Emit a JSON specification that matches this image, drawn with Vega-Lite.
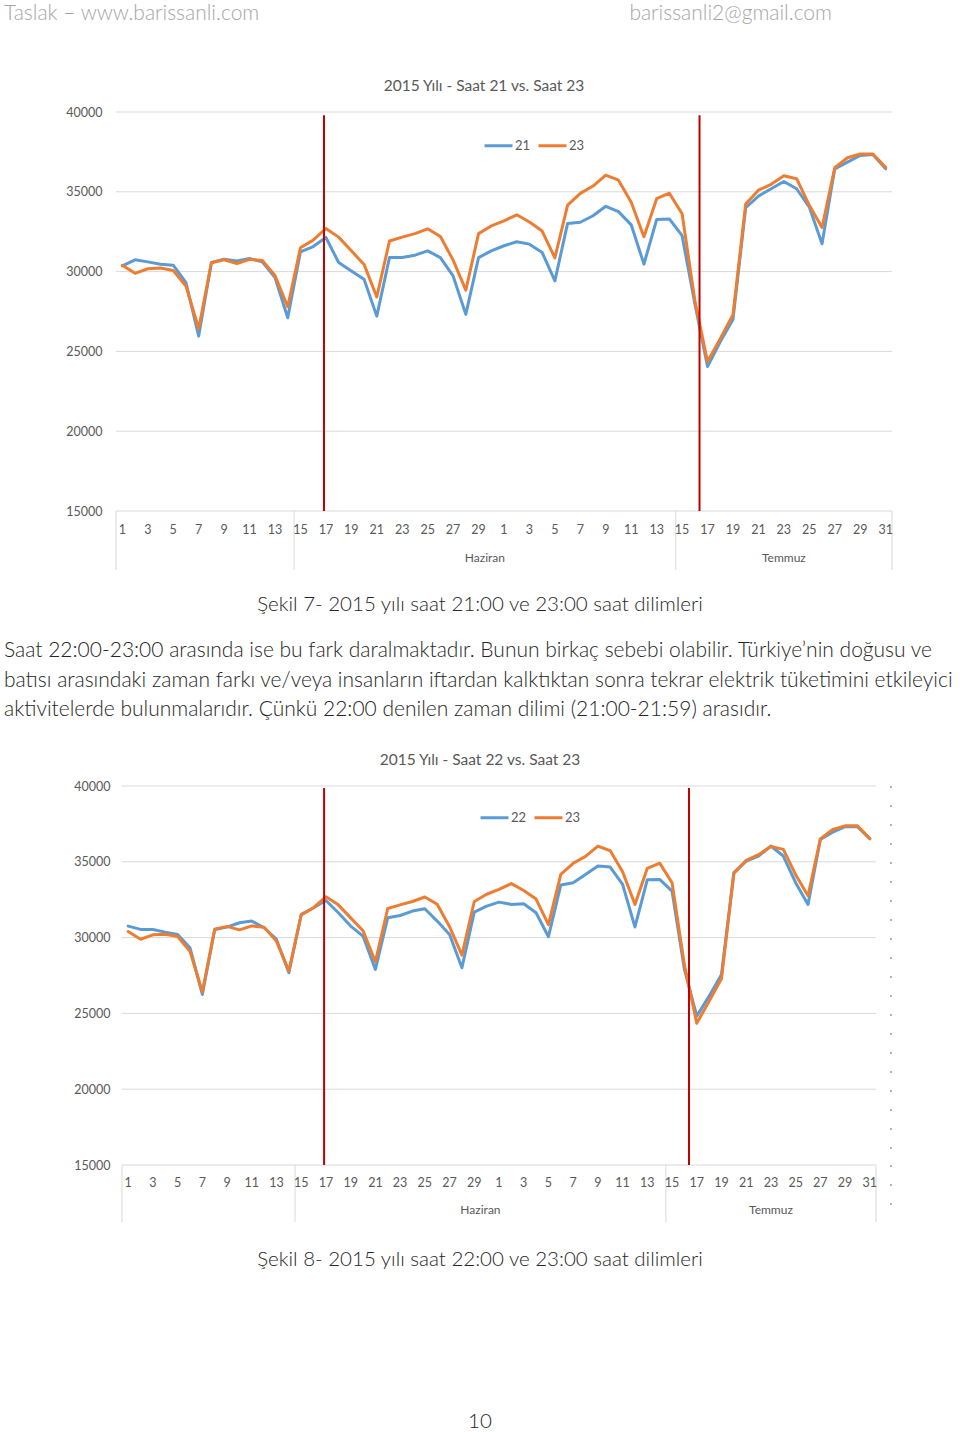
{
  "$schema": "https://vega.github.io/schema/vega-lite/v6.json",
  "background": "white",
  "padding": 0,
  "bounds": "flush",
  "spacing": 0,
  "config": {
    "view": {"stroke": null},
    "font": "Lato",
    "title": {"font": "Lato", "fontWeight": "normal", "frame": "group", "limit": 0},
    "axis": {"labelFont": "Lato", "labelColor": "#595959", "title": null},
    "legend": {"labelFont": "Lato"}
  },
  "resolve": {"scale": {"color": "independent"}, "legend": {"color": "independent"}},
  "datasets": {
    "gunluk": [
      {"i": 0, "gun": "1", "grup": "", "21": 30360, "22": 30760, "23": 30400},
      {"i": 1, "gun": "2", "grup": "", "21": 30740, "22": 30540, "23": 29890},
      {"i": 2, "gun": "3", "grup": "", "21": 30610, "22": 30540, "23": 30180},
      {"i": 3, "gun": "4", "grup": "", "21": 30460, "22": 30360, "23": 30220},
      {"i": 4, "gun": "5", "grup": "", "21": 30400, "22": 30210, "23": 30070},
      {"i": 5, "gun": "6", "grup": "", "21": 29310, "22": 29330, "23": 29100},
      {"i": 6, "gun": "7", "grup": "", "21": 25960, "22": 26250, "23": 26420},
      {"i": 7, "gun": "8", "grup": "", "21": 30570, "22": 30540, "23": 30550},
      {"i": 8, "gun": "9", "grup": "", "21": 30780, "22": 30690, "23": 30740},
      {"i": 9, "gun": "10", "grup": "", "21": 30670, "22": 30980, "23": 30510},
      {"i": 10, "gun": "11", "grup": "", "21": 30820, "22": 31090, "23": 30770},
      {"i": 11, "gun": "12", "grup": "", "21": 30610, "22": 30650, "23": 30690},
      {"i": 12, "gun": "13", "grup": "", "21": 29620, "22": 29880, "23": 29750},
      {"i": 13, "gun": "14", "grup": "", "21": 27110, "22": 27680, "23": 27800},
      {"i": 14, "gun": "15", "grup": "Haziran", "21": 31240, "22": 31530, "23": 31490},
      {"i": 15, "gun": "16", "grup": "Haziran", "21": 31570, "22": 31970, "23": 31970},
      {"i": 16, "gun": "17", "grup": "Haziran", "21": 32140, "22": 32450, "23": 32700},
      {"i": 17, "gun": "18", "grup": "Haziran", "21": 30570, "22": 31640, "23": 32160},
      {"i": 18, "gun": "19", "grup": "Haziran", "21": 30040, "22": 30760, "23": 31300},
      {"i": 19, "gun": "20", "grup": "Haziran", "21": 29520, "22": 30100, "23": 30450},
      {"i": 20, "gun": "21", "grup": "Haziran", "21": 27210, "22": 27900, "23": 28410},
      {"i": 21, "gun": "22", "grup": "Haziran", "21": 30880, "22": 31310, "23": 31920},
      {"i": 22, "gun": "23", "grup": "Haziran", "21": 30880, "22": 31460, "23": 32160},
      {"i": 23, "gun": "24", "grup": "Haziran", "21": 31030, "22": 31750, "23": 32380},
      {"i": 24, "gun": "25", "grup": "Haziran", "21": 31300, "22": 31900, "23": 32680},
      {"i": 25, "gun": "26", "grup": "Haziran", "21": 30880, "22": 31090, "23": 32200},
      {"i": 26, "gun": "27", "grup": "Haziran", "21": 29730, "22": 30210, "23": 30720},
      {"i": 27, "gun": "28", "grup": "Haziran", "21": 27320, "22": 28010, "23": 28840},
      {"i": 28, "gun": "29", "grup": "Haziran", "21": 30880, "22": 31680, "23": 32380},
      {"i": 29, "gun": "30", "grup": "Haziran", "21": 31300, "22": 32080, "23": 32860},
      {"i": 30, "gun": "1", "grup": "Haziran", "21": 31620, "22": 32340, "23": 33180},
      {"i": 31, "gun": "2", "grup": "Haziran", "21": 31870, "22": 32190, "23": 33560},
      {"i": 32, "gun": "3", "grup": "Haziran", "21": 31720, "22": 32230, "23": 33110},
      {"i": 33, "gun": "4", "grup": "Haziran", "21": 31200, "22": 31640, "23": 32540},
      {"i": 34, "gun": "5", "grup": "Haziran", "21": 29420, "22": 30060, "23": 30860},
      {"i": 35, "gun": "6", "grup": "Haziran", "21": 33020, "22": 33470, "23": 34170},
      {"i": 36, "gun": "7", "grup": "Haziran", "21": 33090, "22": 33620, "23": 34900},
      {"i": 37, "gun": "8", "grup": "Haziran", "21": 33500, "22": 34170, "23": 35360},
      {"i": 38, "gun": "9", "grup": "Haziran", "21": 34090, "22": 34720, "23": 36040},
      {"i": 39, "gun": "10", "grup": "Haziran", "21": 33760, "22": 34650, "23": 35730},
      {"i": 40, "gun": "11", "grup": "Haziran", "21": 32930, "22": 33510, "23": 34350},
      {"i": 41, "gun": "12", "grup": "Haziran", "21": 30470, "22": 30700, "23": 32180},
      {"i": 42, "gun": "13", "grup": "Haziran", "21": 33260, "22": 33820, "23": 34570},
      {"i": 43, "gun": "14", "grup": "Haziran", "21": 33300, "22": 33840, "23": 34910},
      {"i": 44, "gun": "15", "grup": "Temmuz", "21": 32250, "22": 33070, "23": 33620},
      {"i": 45, "gun": "16", "grup": "Temmuz", "21": 28000, "22": 27900, "23": 28200},
      {"i": 46, "gun": "17", "grup": "Temmuz", "21": 24050, "22": 24820, "23": 24350},
      {"i": 47, "gun": "18", "grup": "Temmuz", "21": 25600, "22": 26140, "23": 25800},
      {"i": 48, "gun": "19", "grup": "Temmuz", "21": 27000, "22": 27570, "23": 27300},
      {"i": 49, "gun": "20", "grup": "Temmuz", "21": 34000, "22": 34280, "23": 34230},
      {"i": 50, "gun": "21", "grup": "Temmuz", "21": 34730, "22": 35050, "23": 35100},
      {"i": 51, "gun": "22", "grup": "Temmuz", "21": 35190, "22": 35380, "23": 35470},
      {"i": 52, "gun": "23", "grup": "Temmuz", "21": 35650, "22": 36040, "23": 36010},
      {"i": 53, "gun": "24", "grup": "Temmuz", "21": 35190, "22": 35380, "23": 35820},
      {"i": 54, "gun": "25", "grup": "Temmuz", "21": 34040, "22": 33620, "23": 34150},
      {"i": 55, "gun": "26", "grup": "Temmuz", "21": 31740, "22": 32190, "23": 32760},
      {"i": 56, "gun": "27", "grup": "Temmuz", "21": 36440, "22": 36480, "23": 36510},
      {"i": 57, "gun": "28", "grup": "Temmuz", "21": 36860, "22": 36960, "23": 37130},
      {"i": 58, "gun": "29", "grup": "Temmuz", "21": 37280, "22": 37320, "23": 37370},
      {"i": 59, "gun": "30", "grup": "Temmuz", "21": 37340, "22": 37320, "23": 37370},
      {"i": 60, "gun": "31", "grup": "Temmuz", "21": 36440, "22": 36520, "23": 36530}
    ],
    "izgara": [{"y": 15000}, {"y": 20000}, {"y": 25000}, {"y": 30000}, {"y": 35000}, {"y": 40000}],
    "ramazan": [{"i": 15.85}, {"i": 45.37}],
    "sinir": [{"i": -0.5}, {"i": 13.5}, {"i": 43.5}, {"i": 60.5}],
    "bos": []
  },
  "vconcat": [
    {
      "width": 960, "height": 1,
      "data": {"name": "bos"}, "mark": "point",
      "title": {"text": "Taslak – www.barissanli.com", "orient": "bottom", "anchor": "start", "offset": 13, "baseline": "middle", "dx": 4, "fontSize": 21, "fontWeight": 300, "color": "#a6a6a6"}
    },
    {
      "width": 832, "height": 1,
      "data": {"name": "bos"}, "mark": "point",
      "title": {"text": "barissanli2@gmail.com", "orient": "bottom", "anchor": "end", "offset": 12, "baseline": "middle", "fontSize": 21, "fontWeight": 300, "color": "#a6a6a6"}
    },
    {"width": 960, "height": 110, "data": {"name": "bos"}, "mark": "point"},
    {
      "width": 960, "height": 399,
      "title": {"text": "2015 Yılı - Saat 21 vs. Saat 23", "orient": "top", "anchor": "middle", "offset": 5, "baseline": "middle", "dx": 4, "fontSize": 15.5, "color": "#595959"},
      "layer": [
        {
          "data": {"name": "izgara"},
          "mark": {"type": "rule", "color": "#d9d9d9", "strokeWidth": 1},
          "encoding": {
            "x": {"datum": -0.5, "type": "quantitative", "scale": {"domain": [-9.6185, 65.846], "nice": false, "zero": false}, "axis": null},
            "x2": {"datum": 60.5},
            "y": {"field": "y", "type": "quantitative", "scale": {"domain": [15000, 40000], "nice": false, "zero": false},
                  "axis": {"values": [15000, 20000, 25000, 30000, 35000, 40000], "format": "d", "orient": "left", "offset": -102, "labelPadding": 0, "ticks": false, "tickSize": 0, "domain": false, "grid": false, "labelFontSize": 12.5, "labelColor": "#595959", "title": null}}
          }
        },
        {
          "data": {"name": "gunluk"},
          "transform": [{"fold": ["21", "23"], "as": ["saat", "mw"]}],
          "mark": {"type": "line", "strokeWidth": 3, "strokeJoin": "round", "strokeCap": "round"},
          "encoding": {
            "x": {"field": "i", "type": "quantitative", "scale": {"domain": [-9.6185, 65.846], "nice": false, "zero": false}, "axis": null},
            "y": {"field": "mw", "type": "quantitative", "scale": {"domain": [15000, 40000], "nice": false, "zero": false}},
            "color": {"field": "saat", "type": "nominal", "scale": {"domain": ["21", "23"], "range": ["#5B9BD5", "#ED7D31"]},
                      "legend": {"orient": "none", "legendX": 483, "legendY": 18, "direction": "horizontal", "title": null, "symbolType": "stroke", "symbolStrokeWidth": 3, "symbolSize": 784, "labelFontSize": 13, "labelColor": "#595959", "labelOffset": 1, "columnPadding": 1, "padding": 0}}
          }
        },
        {
          "data": {"name": "ramazan"},
          "mark": {"type": "rule", "color": "#C00000", "strokeWidth": 2},
          "encoding": {
            "x": {"field": "i", "type": "quantitative", "scale": {"domain": [-9.6185, 65.846], "nice": false, "zero": false}, "axis": null},
            "y": {"datum": 39800},
            "y2": {"datum": 15000}
          }
        }
      ]
    },
    {
      "width": 960, "height": 59,
      "layer": [
        {
          "data": {"name": "sinir"},
          "mark": {"type": "rule", "color": "#d9d9d9", "strokeWidth": 1},
          "encoding": {"x": {"field": "i", "type": "quantitative", "scale": {"domain": [-9.6185, 65.846], "nice": false, "zero": false}, "axis": null}}
        },
        {
          "data": {"name": "gunluk"},
          "transform": [{"filter": "datum.i % 2 === 0"}],
          "mark": {"type": "text", "fontSize": 12.5, "color": "#595959", "dy": -10.5, "baseline": "middle"},
          "encoding": {
            "x": {"field": "i", "type": "quantitative", "scale": {"domain": [-9.6185, 65.846], "nice": false, "zero": false}, "axis": null},
            "text": {"field": "gun", "type": "nominal"}
          }
        },
        {
          "data": {"name": "gunluk"},
          "mark": {"type": "text", "fontSize": 12, "color": "#595959", "dy": 17.5, "baseline": "middle"},
          "encoding": {
            "x": {"aggregate": "mean", "field": "i", "type": "quantitative", "scale": {"domain": [-9.6185, 65.846], "nice": false, "zero": false}, "axis": null},
            "text": {"field": "grup", "type": "nominal"}
          }
        }
      ]
    },
    {
      "width": 960, "height": 1,
      "data": {"name": "bos"}, "mark": "point",
      "title": {"text": "Şekil 7- 2015 yılı saat 21:00 ve 23:00 saat dilimleri", "orient": "bottom", "anchor": "middle", "offset": 34, "baseline": "middle", "fontSize": 20.5, "fontWeight": 300, "color": "#262626"}
    },
    {
      "width": 960, "height": 1,
      "data": {"name": "bos"}, "mark": "point",
      "title": {"text": ["Saat 22:00-23:00 arasında ise bu fark daralmaktadır. Bunun birkaç sebebi olabilir. Türkiye’nin doğusu ve", "batısı arasındaki zaman farkı ve/veya insanların iftardan kalktıktan sonra tekrar elektrik tüketimini etkileyici", "aktivitelerde bulunmalarıdır. Çünkü 22:00 denilen zaman dilimi (21:00-21:59) arasıdır."], "orient": "bottom", "anchor": "start", "offset": 79, "baseline": "middle", "dx": 4, "lineHeight": 29.5, "fontSize": 21, "fontWeight": 300, "color": "#262626"}
    },
    {"width": 960, "height": 214, "data": {"name": "bos"}, "mark": "point"},
    {
      "width": 960, "height": 379,
      "title": {"text": "2015 Yılı - Saat 22 vs. Saat 23", "orient": "top", "anchor": "middle", "offset": 5, "baseline": "middle", "fontSize": 15.5, "color": "#595959"},
      "layer": [
        {
          "data": {"name": "izgara"},
          "mark": {"type": "rule", "color": "#d9d9d9", "strokeWidth": 1},
          "encoding": {
            "x": {"datum": -0.5, "type": "quantitative", "scale": {"domain": [-10.37, 67.296], "nice": false, "zero": false}, "axis": null},
            "x2": {"datum": 60.5},
            "y": {"field": "y", "type": "quantitative", "scale": {"domain": [15000, 40000], "nice": false, "zero": false},
                  "axis": {"values": [15000, 20000, 25000, 30000, 35000, 40000], "format": "d", "orient": "left", "offset": -110, "labelPadding": 0, "ticks": false, "tickSize": 0, "domain": false, "grid": false, "labelFontSize": 12.5, "labelColor": "#595959", "title": null}}
          }
        },
        {
          "data": {"name": "gunluk"},
          "transform": [{"fold": ["22", "23"], "as": ["saat", "mw"]}],
          "mark": {"type": "line", "strokeWidth": 3, "strokeJoin": "round", "strokeCap": "round"},
          "encoding": {
            "x": {"field": "i", "type": "quantitative", "scale": {"domain": [-10.37, 67.296], "nice": false, "zero": false}, "axis": null},
            "y": {"field": "mw", "type": "quantitative", "scale": {"domain": [15000, 40000], "nice": false, "zero": false}},
            "color": {"field": "saat", "type": "nominal", "scale": {"domain": ["22", "23"], "range": ["#5B9BD5", "#ED7D31"]},
                      "legend": {"orient": "none", "legendX": 479, "legendY": 16, "direction": "horizontal", "title": null, "symbolType": "stroke", "symbolStrokeWidth": 3, "symbolSize": 784, "labelFontSize": 13, "labelColor": "#595959", "labelOffset": 1, "columnPadding": 1, "padding": 0}}
          }
        },
        {
          "data": {"name": "ramazan"},
          "mark": {"type": "rule", "color": "#C00000", "strokeWidth": 2},
          "encoding": {
            "x": {"field": "i", "type": "quantitative", "scale": {"domain": [-10.37, 67.296], "nice": false, "zero": false}, "axis": null},
            "y": {"datum": 39870},
            "y2": {"datum": 15000}
          }
        },
        {
          "data": {"values": [{}]},
          "mark": {"type": "rule", "color": "#9a9a9a", "strokeWidth": 1.5, "strokeDash": [2, 17]},
          "encoding": {
            "x": {"datum": 61.71, "type": "quantitative", "scale": {"domain": [-10.37, 67.296], "nice": false, "zero": false}, "axis": null},
            "y": {"datum": 40000},
            "y2": {"datum": 15000}
          }
        }
      ]
    },
    {
      "width": 960, "height": 57,
      "layer": [
        {
          "data": {"name": "sinir"},
          "mark": {"type": "rule", "color": "#d9d9d9", "strokeWidth": 1},
          "encoding": {"x": {"field": "i", "type": "quantitative", "scale": {"domain": [-10.37, 67.296], "nice": false, "zero": false}, "axis": null}}
        },
        {
          "data": {"values": [{}]},
          "mark": {"type": "rule", "color": "#9a9a9a", "strokeWidth": 1.5, "strokeDash": [2, 17]},
          "encoding": {"x": {"datum": 61.71, "type": "quantitative", "scale": {"domain": [-10.37, 67.296], "nice": false, "zero": false}, "axis": null}}
        },
        {
          "data": {"name": "gunluk"},
          "transform": [{"filter": "datum.i % 2 === 0"}],
          "mark": {"type": "text", "fontSize": 12.5, "color": "#595959", "dy": -10.5, "baseline": "middle"},
          "encoding": {
            "x": {"field": "i", "type": "quantitative", "scale": {"domain": [-10.37, 67.296], "nice": false, "zero": false}, "axis": null},
            "text": {"field": "gun", "type": "nominal"}
          }
        },
        {
          "data": {"name": "gunluk"},
          "mark": {"type": "text", "fontSize": 12, "color": "#595959", "dy": 16.5, "baseline": "middle"},
          "encoding": {
            "x": {"aggregate": "mean", "field": "i", "type": "quantitative", "scale": {"domain": [-10.37, 67.296], "nice": false, "zero": false}, "axis": null},
            "text": {"field": "grup", "type": "nominal"}
          }
        }
      ]
    },
    {
      "width": 960, "height": 1,
      "data": {"name": "bos"}, "mark": "point",
      "title": {"text": "Şekil 8- 2015 yılı saat 22:00 ve 23:00 saat dilimleri", "orient": "bottom", "anchor": "middle", "offset": 37, "baseline": "middle", "fontSize": 20.5, "fontWeight": 300, "color": "#262626"}
    },
    {
      "width": 960, "height": 1,
      "data": {"name": "bos"}, "mark": "point",
      "title": {"text": "10", "orient": "bottom", "anchor": "middle", "offset": 198, "baseline": "middle", "fontSize": 20.5, "fontWeight": 300, "color": "#262626"}
    }
  ]
}
